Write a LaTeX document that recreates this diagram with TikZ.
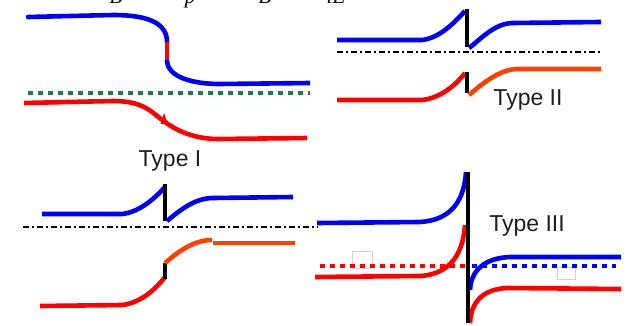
\documentclass[tikz,border=0pt]{standalone}
\usepackage{fontspec}
\setmainfont{Liberation Sans}
\newfontfamily\eqfont{Liberation Serif}
\definecolor{bandblue}{RGB}{0,0,255}
\definecolor{bandred}{RGB}{255,0,0}
\definecolor{bandorange}{RGB}{255,64,0}
\definecolor{fermigreen}{RGB}{30,125,70}
\definecolor{labelgray}{RGB}{30,30,30}
\tikzset{
  band/.style={line width=4.6pt},
  bblue/.style={band, draw=bandblue},
  bred/.style={band, draw=bandred},
  borange/.style={band, draw=bandorange},
  jump/.style={line width=4pt, draw=black},
  dotline/.style={line width=4.5pt, dash pattern=on 4.5pt off 5.5pt},
  dashdotline/.style={line width=1.8pt, draw=black, dash pattern=on 6pt off 3pt on 2pt off 3pt},
  typelabel/.style={text=labelgray, font=\fontsize{23}{26}\selectfont, inner sep=0pt},
  eqpart/.style={font=\eqfont\itshape\fontsize{21}{24}\selectfont, anchor=base, inner sep=0pt},
  ghostbox/.style={draw=black!18, line width=0.6pt}
}
\begin{document}
\begin{tikzpicture}[x=1pt,y=-1pt]
\useasboundingbox (0,0) rectangle (628,326);
\clip (0,0) rectangle (628,326);

% equation fragments along the upper edge
\node[eqpart] (eqa) at (116,4) {B};
\node[eqpart] (eqb) at (190,4) {p};
\node[eqpart] (eqc) at (265,4) {B};
\node[eqpart] (eqd) at (336,4) {iE};

% ---- Type I (upper left): bands with Fermi level
\draw[bblue, line cap=round] (28,17) -- (113,15) .. controls (150,15) and (167,24) .. (167,42);
\draw[bred] (167,42) -- (167,60);
\draw[bblue] (167,60) .. controls (167,78) and (195,84) .. (220,84) -- (310,83);
\draw[dotline, draw=fermigreen] (28,93) -- (310,93);
\draw[bred] (24,103) -- (113,101) .. controls (145,101) and (152,113) .. (165,122)
  .. controls (180,133) and (198,139) .. (218,139) -- (307,138);
\fill[bandred] (164,113) -- (160.5,124) -- (167.5,123.5) -- cycle;
\node[typelabel] (t1) at (170,161) {Type I};

% ---- Type II (upper right)
\draw[bblue] (337,40) -- (422,40) .. controls (440,38) and (455,22) .. (465,11);
\draw[jump] (467,9) -- (467,47);
\draw[bblue] (469,48) .. controls (482,38) and (494,24) .. (512,23) -- (601,22);
\draw[dashdotline] (337,52) -- (601,52);
\draw[bred] (337,100) -- (422,100) .. controls (440,98) and (455,86) .. (465,73);
\draw[jump] (467,72) -- (467,93);
\draw[borange] (469,95) .. controls (484,82) and (500,70) .. (516,69) -- (601,69);
\node[typelabel] (t2) at (528,100) {Type II};

% ---- Type I, band offsets (lower left)
\draw[bblue] (42,214) -- (122,214) .. controls (140,212) and (155,198) .. (165,187);
\draw[jump] (165,184) -- (165,221);
\draw[bblue] (167,221) .. controls (180,210) and (195,198) .. (213,198) -- (293,197);
\draw[dashdotline] (23,227) -- (318,227);
\draw[bred] (40,306) -- (122,305) .. controls (140,303) and (155,290) .. (165,277);
\draw[jump] (165,263) -- (165,279);
\draw[borange] (165,263) .. controls (180,250) and (195,240) .. (212,240);
\draw[borange] (213,243) -- (295,243);

% ---- Type III (lower right)
\draw[ghostbox] (352,251) rectangle (372,268);
\draw[ghostbox] (557,267) rectangle (575,279);
\draw[dotline, draw=bandred] (320,266) -- (466,266);
\draw[dotline, draw=bandblue] (472,266) -- (616,266);
\draw[bblue] (317,223) -- (420,222) .. controls (452,220) and (464,200) .. (466,172);
\draw[bred] (315,277) -- (420,276) .. controls (452,274) and (463,252) .. (465,225);
\draw[bblue] (470,290) .. controls (471,270) and (485,258) .. (510,257) -- (621,257);
\draw[bred] (470,323) .. controls (471,300) and (485,289) .. (507,288) -- (621,289);
\draw[jump] (468,172) -- (468,323);
\node[typelabel] (t3) at (527,226) {Type III};
\end{tikzpicture}
\end{document}
